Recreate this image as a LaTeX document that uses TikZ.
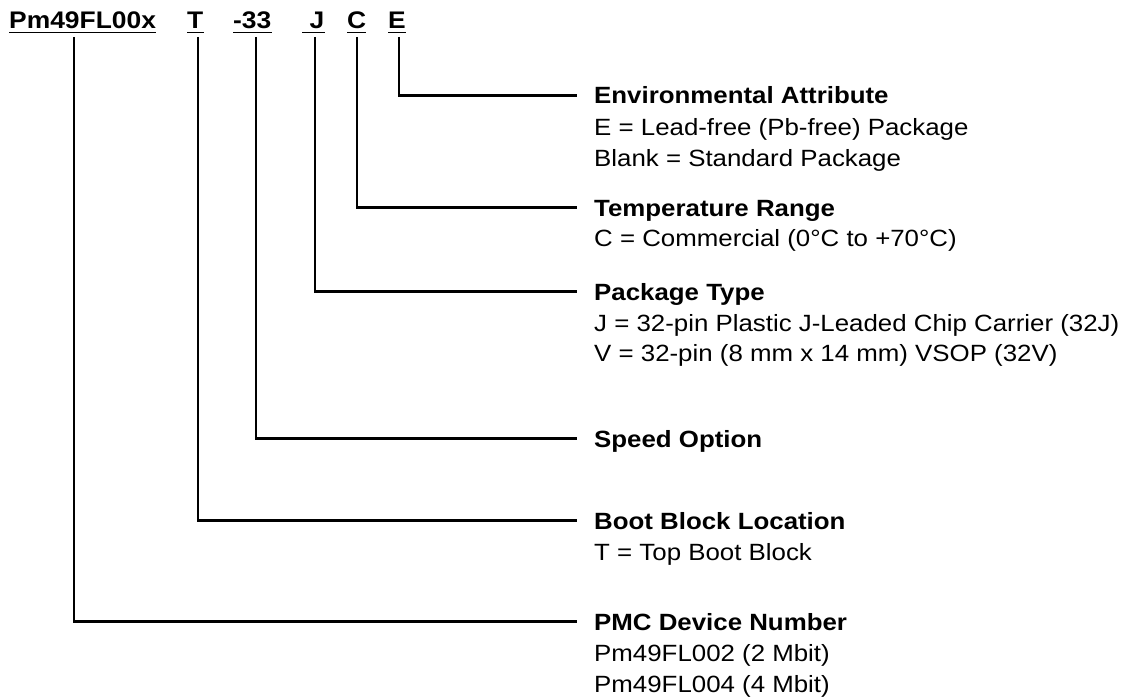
\documentclass[tikz,border=0pt]{standalone}
\usepackage{fontspec}
\setmainfont[FakeStretch=1.1]{Liberation Sans}
\begin{document}
\begin{tikzpicture}[x=1pt,y=-1pt,
  hdr/.style={anchor=base west, inner sep=0pt, font=\fontsize{24}{28}\selectfont\bfseries},
  ttl/.style={anchor=base west, inner sep=0pt, font=\fontsize{23.5}{28}\selectfont\bfseries},
  dsc/.style={anchor=base west, inner sep=0pt, font=\fontsize{23.5}{28}\selectfont},
  conn/.style={line width=2.2pt, line join=miter},
  uline/.style={line width=1.6pt}]
\useasboundingbox (0,0) rectangle (1136,698);
% header
\node[hdr] (hP) at (9,29) {Pm49FL00x};
\node[hdr] (hT) at (187,29) {T};
\node[hdr] (hS) at (233,29) {-33};
\node[hdr] (hJ) at (302,29) {\hspace{7.5pt}J};
\node[hdr] (hC) at (347,29) {C};
\node[hdr] (hE) at (388,29) {E};
\foreach \n in {hP,hT,hS,hJ,hC,hE}
  \draw[uline] ([yshift=-3.5pt]\n.base west) -- ([yshift=-3.5pt]\n.base east);
% tops of connectors
\coordinate (tP) at (74,37);
\coordinate (tT) at (198,37);
\coordinate (tS) at (256,37);
\coordinate (tJ) at (315,37);
\coordinate (tC) at (357,37);
\coordinate (tE) at (399,37);
% labels
\node[ttl] (lE) at (594,104) {Environmental Attribute};
\node[dsc] (lE1) at (594,136) {E = Lead-free (Pb-free) Package};
\node[dsc] (lE2) at (594,167) {Blank = Standard Package};
\node[ttl] (lC) at (594,216) {Temperature Range};
\node[dsc] (lC1) at (594,247) {C = Commercial (0°C to +70°C)};
\node[ttl] (lJ) at (594,300) {Package Type};
\node[dsc] (lJ1) at (594,331) {J = 32-pin Plastic J-Leaded Chip Carrier (32J)};
\node[dsc] (lJ2) at (594,361) {V = 32-pin (8 mm x 14 mm) VSOP (32V)};
\node[ttl] (lS) at (594,447) {Speed Option};
\node[ttl] (lT) at (594,529) {Boot Block Location};
\node[dsc] (lT1) at (594,560) {T = Top Boot Block};
\node[ttl] (lP) at (594,630) {PMC Device Number};
\node[dsc] (lP1) at (594,661) {Pm49FL002 (2 Mbit)};
\node[dsc] (lP2) at (594,692) {Pm49FL004 (4 Mbit)};
% connectors
\foreach \a/\b in {tE/lE,tC/lC,tJ/lJ,tS/lS,tT/lT,tP/lP}
  \draw[conn] (\a) |- ([shift={(-17pt,8.5pt)}]\b.base west);
\end{tikzpicture}
\end{document}
